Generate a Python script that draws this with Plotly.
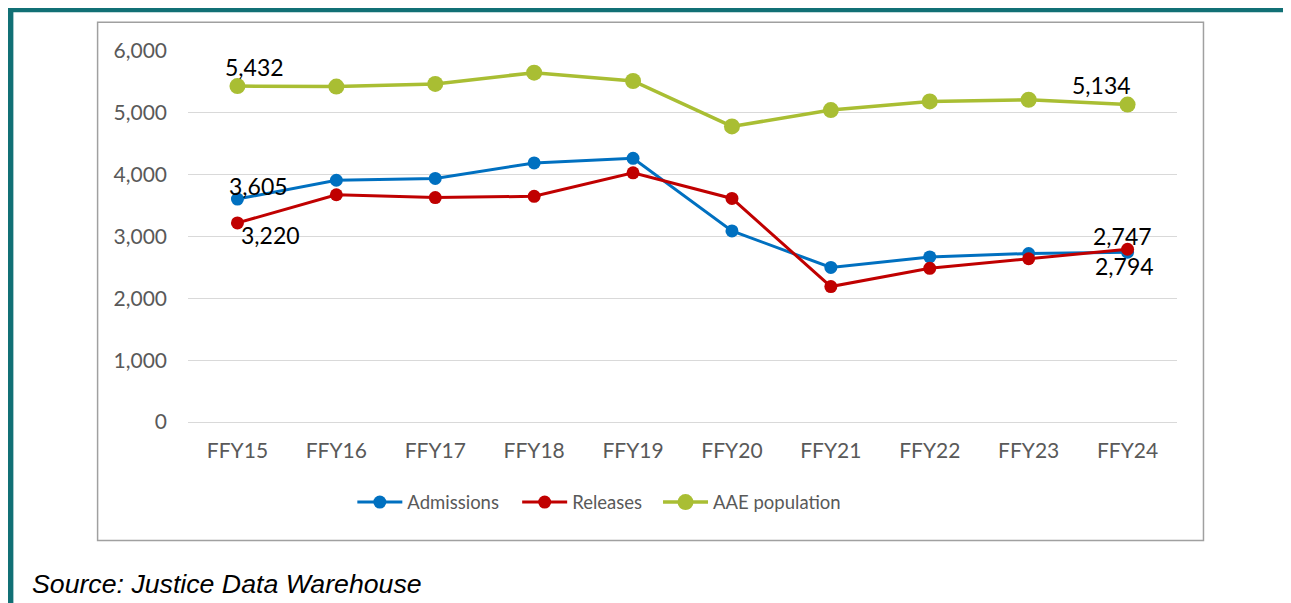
import plotly.graph_objects as go

categories = ["FFY15", "FFY16", "FFY17", "FFY18", "FFY19", "FFY20", "FFY21", "FFY22", "FFY23", "FFY24"]
admissions = [3605, 3910, 3940, 4190, 4265, 3090, 2500, 2670, 2725, 2747]
releases = [3220, 3675, 3630, 3650, 4030, 3615, 2190, 2485, 2640, 2794]
aae_population = [5432, 5425, 5468, 5650, 5515, 4780, 5045, 5185, 5212, 5134]
y_ticks = [0, 1000, 2000, 3000, 4000, 5000, 6000]

BLUE = "#0070C0"
RED = "#C00000"
GREEN = "#A9BE33"
TEAL = "#117075"
GRAY_TXT = "#595959"
FONT = "Lato, 'Open Sans', sans-serif"

OFF = 8  # page body margin; coordinates below are in viewport pixels
W, H = 1291 - OFF, 603 - OFF
L, R = 187.5 - OFF, 1177.5 - OFF
T, B = 50.7 - OFF, 422.3 - OFF


def px(x):
    return (x - OFF - L) / (R - L)


def py(y):
    return (B - (y - OFF)) / (B - T)


fig = go.Figure()
fig.add_trace(go.Scatter(x=categories, y=admissions, name="Admissions", mode="lines+markers",
                         line=dict(color=BLUE, width=3), marker=dict(size=13, color=BLUE),
                         cliponaxis=False, legend="legend"))
fig.add_trace(go.Scatter(x=categories, y=releases, name="Releases", mode="lines+markers",
                         line=dict(color=RED, width=3), marker=dict(size=13, color=RED),
                         cliponaxis=False, legend="legend2"))
fig.add_trace(go.Scatter(x=categories, y=aae_population, name="AAE population", mode="lines+markers",
                         line=dict(color=GREEN, width=3.5), marker=dict(size=16, color=GREEN),
                         cliponaxis=False, legend="legend3"))

label_font = dict(family=FONT, size=23, color="#000000")
labels = [
    (categories[0], aae_population[0], 17, 19),
    (categories[0], admissions[0], 21, 13),
    (categories[0], releases[0], 33, -12),
    (categories[-1], aae_population[-1], -26, 20),
    (categories[-1], admissions[-1], -5, 16),
    (categories[-1], releases[-1], -3, -17),
]
annotations = []
for cx, val, dx, dy in labels:
    annotations.append(dict(x=cx, y=val, xref="x", yref="y", text=f"{val:,}", showarrow=False,
                            xshift=dx, yshift=dy, font=label_font))

annotations.append(dict(x=px(29.5), y=py(585), xref="paper", yref="paper", xanchor="left", yanchor="middle",
                        text="<i>Source: Justice Data Warehouse</i>", showarrow=False,
                        font=dict(family="Liberation Sans, Arial, sans-serif", size=26.7, color="#000000")))


def band(x0, x1, y0, y1):
    return dict(type="rect", xref="paper", yref="paper", x0=px(x0), x1=px(x1), y0=py(y0), y1=py(y1),
                line=dict(width=0), fillcolor=TEAL, layer="below")


shapes = [
    band(0, 1300, 0, 12),        # top teal band
    band(0, 12.7, 0, 640),       # left teal band
    band(1287.7, 1300, 0, 640),  # right teal band
    dict(type="rect", xref="paper", yref="paper", x0=px(97), x1=px(1204), y0=py(22), y1=py(541),
         line=dict(color="#A0A0A0", width=1.5), fillcolor="rgba(0,0,0,0)", layer="below"),
]

leg_common = dict(orientation="h", xanchor="left", yanchor="middle", y=py(503),
                  font=dict(family=FONT, size=18.5, color=GRAY_TXT), bgcolor="rgba(0,0,0,0)",
                  itemwidth=45)

fig.update_layout(
    width=W, height=H,
    margin=dict(l=L, r=W - R, t=T, b=H - B, autoexpand=False),
    paper_bgcolor="white", plot_bgcolor="white",
    showlegend=True,
    legend=dict(x=px(352), **leg_common),
    legend2=dict(x=px(517), **leg_common),
    legend3=dict(x=px(658), **leg_common),
    annotations=annotations,
    shapes=shapes,
    xaxis=dict(type="category", range=[-0.5, 9.5], showgrid=False, zeroline=False, showline=False,
               ticks="", tickfont=dict(family=FONT, size=21, color=GRAY_TXT), ticklabelstandoff=14,
               fixedrange=True),
    yaxis=dict(range=[0, 6000], tickvals=y_ticks, ticktext=[f"{v:,}" for v in y_ticks],
               showgrid=True, gridcolor="#D9D9D9", gridwidth=1.3, zeroline=True, zerolinecolor="#D9D9D9",
               zerolinewidth=1.3, showline=False, ticks="",
               tickfont=dict(family=FONT, size=21, color=GRAY_TXT), ticklabelstandoff=20, fixedrange=True),
)

fig.write_html("out.html")
